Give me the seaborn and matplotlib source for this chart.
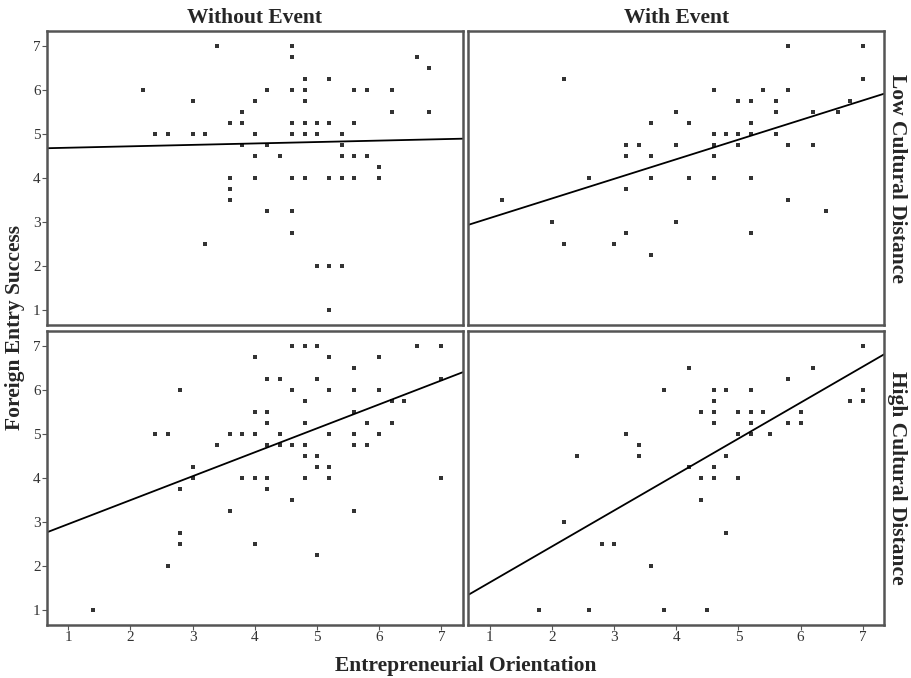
import pandas as pd
import numpy as np
import matplotlib
matplotlib.use("Agg")
import matplotlib.pyplot as plt
import seaborn as sns

sns.set_style("white")
plt.rcParams['font.family'] = ['Liberation Serif', 'DejaVu Serif']

# Without Event, Low Cultural Distance
eo_wo_low = [3.4, 2.2, 3.0, 4.0, 3.8, 3.6, 3.8, 2.4, 2.6, 3.0, 3.2, 4.0, 3.8, 4.0,
             3.6, 4.0, 3.6, 3.6, 3.2,
             4.6, 4.6, 6.6, 6.8, 4.8, 5.2, 4.2, 4.6, 4.8, 5.6, 5.8, 6.2, 4.8,
             6.2, 6.8, 4.6, 4.8, 5.0, 5.2, 5.6, 4.6, 4.8, 5.0, 5.4, 4.2, 5.4,
             4.4, 5.4, 5.6, 5.8, 6.0, 4.6, 4.8, 5.2, 5.4, 5.6, 6.0, 4.2, 4.6,
             4.6, 5.0, 5.2, 5.4, 5.2]
fes_wo_low = [7.0, 6.0, 5.75, 5.75, 5.5, 5.25, 5.25, 5.0, 5.0, 5.0, 5.0, 5.0, 4.75, 4.5,
              4.0, 4.0, 3.75, 3.5, 2.5,
              7.0, 6.75, 6.75, 6.5, 6.25, 6.25, 6.0, 6.0, 6.0, 6.0, 6.0, 6.0, 5.75,
              5.5, 5.5, 5.25, 5.25, 5.25, 5.25, 5.25, 5.0, 5.0, 5.0, 5.0, 4.75, 4.75,
              4.5, 4.5, 4.5, 4.5, 4.25, 4.0, 4.0, 4.0, 4.0, 4.0, 4.0, 3.25, 3.25,
              2.75, 2.0, 2.0, 2.0, 1.0]

# With Event, Low Cultural Distance
eo_w_low = [1.2, 2.2, 2.0, 2.2, 2.6, 3.0, 3.2, 3.2, 3.2, 3.2, 3.4, 3.6, 3.6, 3.6,
            3.6, 4.0, 4.0, 4.0,
            5.8, 7.0, 7.0, 4.6, 5.4, 5.8, 5.0, 5.2, 5.6, 6.8, 5.6, 6.2, 6.6,
            4.2, 5.2, 4.6, 4.8, 5.0, 5.2, 5.6, 4.6, 5.0, 5.8, 6.2, 4.6, 4.2,
            4.6, 5.2, 5.8, 6.4, 5.2]
fes_w_low = [3.5, 6.25, 3.0, 2.5, 4.0, 2.5, 4.75, 4.5, 3.75, 2.75, 4.75, 5.25, 4.5, 4.0,
             2.25, 5.5, 4.75, 3.0,
             7.0, 7.0, 6.25, 6.0, 6.0, 6.0, 5.75, 5.75, 5.75, 5.75, 5.5, 5.5, 5.5,
             5.25, 5.25, 5.0, 5.0, 5.0, 5.0, 5.0, 4.75, 4.75, 4.75, 4.75, 4.5, 4.0,
             4.0, 4.0, 3.5, 3.25, 2.75]

# Without Event, High Cultural Distance
eo_wo_high = [4.0, 2.8, 4.0, 2.4, 2.6, 3.6, 3.8, 4.0, 3.4, 3.0, 3.0, 3.8, 4.0, 2.8,
              3.6, 2.8, 2.8, 4.0, 2.6, 1.4,
              4.6, 4.8, 5.0, 6.6, 7.0, 5.2, 6.0, 5.6, 4.2, 4.4, 5.0, 7.0, 4.6,
              5.2, 5.6, 6.0, 4.8, 6.2, 6.4, 4.2, 5.6, 4.2, 4.8, 5.8, 6.2, 4.4,
              5.2, 5.6, 6.0, 4.2, 4.4, 4.6, 4.8, 5.6, 5.8, 4.8, 5.0, 5.0, 5.2,
              4.2, 4.8, 5.2, 7.0, 4.2, 4.6, 5.6, 5.0]
fes_wo_high = [6.75, 6.0, 5.5, 5.0, 5.0, 5.0, 5.0, 5.0, 4.75, 4.25, 4.0, 4.0, 4.0, 3.75,
               3.25, 2.75, 2.5, 2.5, 2.0, 1.0,
               7.0, 7.0, 7.0, 7.0, 7.0, 6.75, 6.75, 6.5, 6.25, 6.25, 6.25, 6.25, 6.0,
               6.0, 6.0, 6.0, 5.75, 5.75, 5.75, 5.5, 5.5, 5.25, 5.25, 5.25, 5.25, 5.0,
               5.0, 5.0, 5.0, 4.75, 4.75, 4.75, 4.75, 4.75, 4.75, 4.5, 4.5, 4.25, 4.25,
               4.0, 4.0, 4.0, 4.0, 3.75, 3.5, 3.25, 2.25]

# With Event, High Cultural Distance
eo_w_high = [3.8, 3.2, 3.4, 3.4, 2.4, 2.2, 2.8, 3.0, 3.6, 1.8, 2.6, 3.8,
             7.0, 4.2, 6.2, 5.8, 4.6, 4.8, 5.2, 7.0, 4.6, 6.8, 7.0, 4.4, 4.6,
             5.0, 5.2, 5.4, 6.0, 4.6, 5.2, 5.8, 6.0, 5.0, 5.2, 5.5, 4.8, 4.2,
             4.6, 4.4, 4.6, 5.0, 4.4, 4.8, 4.5]
fes_w_high = [6.0, 5.0, 4.75, 4.5, 4.5, 3.0, 2.5, 2.5, 2.0, 1.0, 1.0, 1.0,
              7.0, 6.5, 6.5, 6.25, 6.0, 6.0, 6.0, 6.0, 5.75, 5.75, 5.75, 5.5, 5.5,
              5.5, 5.5, 5.5, 5.5, 5.25, 5.25, 5.25, 5.25, 5.0, 5.0, 5.0, 4.5, 4.25,
              4.25, 4.0, 4.0, 4.0, 3.5, 2.75, 1.0]

events = ["Without Event", "With Event"]
distances = ["Low Cultural Distance", "High Cultural Distance"]

frames = []
for ev, cd, xs, ys in [
    (events[0], distances[0], eo_wo_low, fes_wo_low),
    (events[1], distances[0], eo_w_low, fes_w_low),
    (events[0], distances[1], eo_wo_high, fes_wo_high),
    (events[1], distances[1], eo_w_high, fes_w_high),
]:
    frames.append(pd.DataFrame({"eo": xs, "fes": ys, "event": ev, "cd": cd}))
df = pd.concat(frames, ignore_index=True)

g = sns.lmplot(
    data=df, x="eo", y="fes", col="event", row="cd",
    col_order=events, row_order=distances,
    ci=None, truncate=False, markers="s",
    scatter_kws=dict(s=7, color="black", linewidths=0),
    line_kws=dict(color="black", lw=1.3),
    facet_kws=dict(xlim=(0.66, 7.34), ylim=(0.66, 7.34), despine=False),
    height=3, aspect=1.4,
)
fig = g.figure
fig.set_size_inches(9.12, 6.78)
fig.subplots_adjust(left=47/912, right=884/912, top=1-31/678, bottom=1-625/678,
                    wspace=0.014, hspace=0.018)

g.set_titles("")
g.set_axis_labels("", "")
for ax in g.axes.flat:
    for sp in ax.spines.values():
        sp.set_color("#555555")
        sp.set_linewidth(1.8)
    ax.set_xticks(range(1, 8))
    ax.set_yticks(range(1, 8))
    ax.tick_params(length=3.5, width=0.8, color="#555555", labelsize=11,
                   labelcolor="#333333", pad=1, direction="out")
for ax in g.axes[:, 0]:
    ax.tick_params(axis="y", left=True)
for ax in g.axes[1, :]:
    ax.tick_params(axis="x", bottom=True)

for ax, ev in zip(g.axes[0], events):
    ax.set_title(ev, fontsize=15.5, fontweight="bold", pad=6)
for ax, cd in zip(g.axes[:, 1], distances):
    pos = ax.get_position()
    fig.text(897/912, (pos.y0 + pos.y1) / 2, cd, rotation=270,
             ha="center", va="center", fontsize=15.5, fontweight="bold")

fig.text(15/912, 1-(31+625)/2/678, "Foreign Entry Success", rotation=90,
         ha="center", va="center", fontsize=15.5, fontweight="bold")
fig.text((47+884)/2/912, 1-666/678, "Entrepreneurial Orientation",
         ha="center", va="center", fontsize=15.5, fontweight="bold")

fig.savefig("out.png", dpi=100)
